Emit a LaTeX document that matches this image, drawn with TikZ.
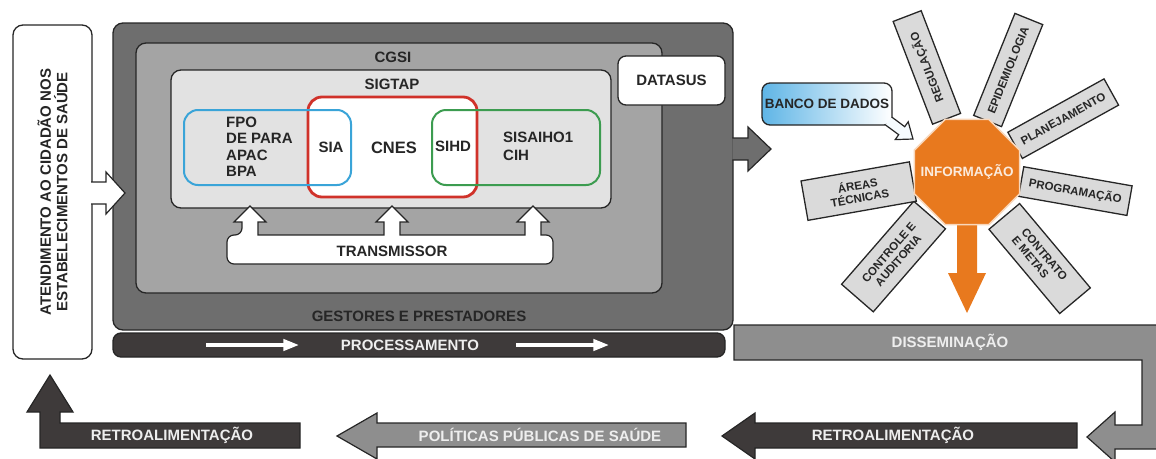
\documentclass[tikz,border=0pt]{standalone}
\usepackage{fontspec}
\setmainfont{Liberation Sans}
\usetikzlibrary{shapes.geometric, arrows.meta, positioning}

\definecolor{outergray}{HTML}{6E6E6E}
\definecolor{cgsigray}{HTML}{A4A4A4}
\definecolor{sigtapgray}{HTML}{E2E2E2}
\definecolor{darkbar}{HTML}{3E3A3A}
\definecolor{midgray}{HTML}{8E8E8E}
\definecolor{raygray}{HTML}{DADADA}
\definecolor{infoorange}{HTML}{E8791E}
\definecolor{cnesred}{HTML}{D0322A}
\definecolor{siablue}{HTML}{3AA4D8}
\definecolor{sihdgreen}{HTML}{3C9C50}
\definecolor{bancoblue}{HTML}{5FB5E6}
\definecolor{lighttext}{HTML}{EEEEEE}

\tikzset{
  lbl/.style={inner sep=0pt, text=black!85},
  panel/.style={draw=black!85, line width=1.3pt, rounded corners=10pt, inner sep=0pt},
  sysbox/.style={rounded corners=14pt, line width=2pt, inner sep=0pt},
  raybox/.style={draw=black!85, fill=raygray, line width=1.3pt, minimum width=110pt, inner sep=0pt,
    align=center, text=black!85, font=\bfseries\fontsize{11.5}{12.5}\selectfont},
  blockarrow/.style={draw=black!85, line width=1.2pt, line join=miter},
}

\begin{document}
\begin{tikzpicture}[x=1pt, y=-1pt, font=\bfseries\fontsize{15}{16.5}\selectfont]
\useasboundingbox (0,0) rectangle (1156,458);
\clip (0,0) rectangle (1156,458);

% atendimento
\node[panel, fill=white, minimum width=79pt, minimum height=334pt] (atend) at (52.5,192) {};
\node[lbl, rotate=90, align=center] (atendlbl) at (atend) {ATENDIMENTO AO CIDADÃO NOS\\ESTABELECIMENTOS DE SAÚDE};

% gestores e prestadores
\node[panel, fill=outergray, minimum width=620pt, minimum height=307pt] (gestores) at (423,176.5) {};
\node[lbl] (gestoreslbl) at (419,316) {GESTORES E PRESTADORES};
\node[panel, fill=darkbar, rounded corners=8pt, minimum width=612pt, minimum height=24pt] (proc) at (419,345) {};
\node[lbl, text=lighttext] (proclbl) at (410,345.5) {PROCESSAMENTO};
\draw[white, line width=4pt, -{Triangle[length=16pt,width=11pt]}] ([xshift=94pt]proc.west) -- ([xshift=187pt]proc.west);
\draw[white, line width=4pt, -{Triangle[length=16pt,width=11pt]}] ([xshift=404pt]proc.west) -- ([xshift=497pt]proc.west);

% cgsi / sigtap
\node[panel, fill=cgsigray, minimum width=526pt, minimum height=250pt] (cgsi) at (399,168) {};
\node[lbl] (cgsilbl) at (393,57) {CGSI};
\node[panel, fill=sigtapgray, minimum width=440pt, minimum height=138pt] (sigtap) at (391,139) {};
\node[lbl] (sigtaplbl) at (392,84) {SIGTAP};

\node[sysbox, draw=cnesred, fill=white, line width=2.8pt, minimum width=169pt, minimum height=100pt] (cnes) at (392.5,147) {};
\node[sysbox, draw=siablue, minimum width=167pt, minimum height=75pt] (sia) at (267.5,147.5) {};
\node[sysbox, draw=sihdgreen, minimum width=168pt, minimum height=75pt] (sihd) at (516,147.5) {};
\node[lbl, align=left, anchor=west] (sialist) at (226,147) {FPO\\DE PARA\\APAC\\BPA};
\node[lbl] (sialbl) at (331,147) {SIA};
\node[lbl, font=\bfseries\fontsize{16.5}{18}\selectfont] (cneslbl) at (394,148) {CNES};
\node[lbl] (sihdlbl) at (453,146) {SIHD};
\node[lbl, align=left, anchor=west, font=\bfseries\fontsize{15}{18}\selectfont] (sihdlist) at (503,146) {SISAIHO1\\CIH};

\node[panel, fill=white, rounded corners=8pt, minimum width=107pt, minimum height=49pt, text=black!85] (datasus) at (671.5,80.5) {DATASUS};

% transmissor
\draw[blockarrow, fill=white, rounded corners=7pt] (227,264) -- (227,235) -- (242,235) [sharp corners] -- (242,222) -- (234,222) -- (250,206) -- (266,222) -- (258,222) -- (258,235)
  -- (384,235) -- (384,222) -- (376,222) -- (392,206) -- (408,222) -- (400,222) -- (400,235)
  -- (525,235) -- (525,222) -- (517,222) -- (533,206) -- (549,222) -- (541,222) -- (541,235) [rounded corners=7pt] -- (553,235) -- (553,264) -- cycle;
\node[lbl] (transmissor) at (392,251) {TRANSMISSOR};

% block arrows in and out
\draw[blockarrow, fill=white] (91,182) -- (106,182) -- (106,172) -- (125,193) -- (106,214) -- (106,204) -- (91,204);
\draw[blockarrow, fill=outergray] (732.3,138) -- (748,138) -- (748,127) -- (771,149) -- (748,171) -- (748,160) -- (732.3,160);

% banco de dados
\node[panel, rounded corners=8pt, left color=bancoblue, right color=white, minimum width=130pt, minimum height=42pt,
  text=black!85, font=\bfseries\fontsize{13.5}{14}\selectfont] (banco) at (827,104) {BANCO DE DADOS};
\draw[blockarrow, fill=bancoblue!6] (885.5,125) -- (898.7,134.7) -- (895.2,139.6) -- (913,139) -- (908.2,121.8) -- (904.7,126.7) -- (892,117.2);

% informacao
\coordinate (infoc) at (967,172);
\node[raybox, minimum height=30pt, rotate=111] (regulacao) at ([shift={(111:112pt)}]infoc) {REGULAÇÃO};
\node[raybox, minimum height=30pt, rotate=68] (epidemiologia) at ([shift={(68:110pt)}]infoc) {EPIDEMIOLOGIA};
\node[raybox, minimum height=30pt, rotate=29] (planejamento) at ([shift={(29:110pt)}]infoc) {PLANEJAMENTO};
\node[raybox, minimum height=30pt, rotate=-10] (programacao) at ([shift={(-10:110pt)}]infoc) {PROGRAMAÇÃO};
\node[raybox, minimum height=40pt, rotate=-50, align=left] (contrato) at ([shift={(-50:113pt)}]infoc) {CONTRATO\\E METAS};
\node[raybox, minimum height=42pt, rotate=49] (controle) at ([shift={(229:112pt)}]infoc) {CONTROLE E\\AUDITORIA};
\node[raybox, minimum height=40pt, rotate=10] (areas) at ([shift={(190:110pt)}]infoc) {ÁREAS\\TÉCNICAS};
\fill[infoorange] (957,220) -- (977,220) -- (977,273) -- (986,273) -- (967,313) -- (948,273) -- (957,273) -- cycle;
\node[regular polygon, regular polygon sides=8, minimum size=114pt, inner sep=0pt, fill=infoorange, draw=white!70!infoorange,
  line width=1.5pt] (info) at (infoc) {};
\node[lbl, text=white!85!infoorange, font=\bfseries\fontsize{13.5}{14}\selectfont] (infolbl) at (info) {INFORMAÇÃO};

% disseminacao
\draw[blockarrow, fill=midgray] (734,325) -- (1170,325) -- (1170,449) -- (1115,449) -- (1115,462) -- (1087,437) -- (1115,412) -- (1115,425) -- (1142,425) -- (1142,360) -- (734,360) -- cycle;
\node[lbl, text=lighttext] (dissem) at (950,342.5) {DISSEMINAÇÃO};

% retroalimentacao
\draw[blockarrow, fill=darkbar] (1077,423) -- (1077,448) -- (755,448) -- (755,459) -- (722,436) -- (755,413) -- (755,423) -- cycle;
\node[lbl, text=lighttext] (retroright) at (893,435.5) {RETROALIMENTAÇÃO};
\draw[blockarrow, fill=midgray] (686,423) -- (686,447) -- (377,447) -- (377,459) -- (337,436) -- (377,413) -- (377,423) -- cycle;
\node[lbl, text=lighttext] (politicas) at (540,435) {POLÍTICAS PÚBLICAS DE SAÚDE};
\draw[blockarrow, fill=darkbar] (300,423) -- (300,448) -- (40,448) -- (40,412) -- (27,412) -- (50,375) -- (73,412) -- (60,412) -- (60,423) -- cycle;
\node[lbl, text=lighttext] (retroleft) at (172,435.5) {RETROALIMENTAÇÃO};
\end{tikzpicture}
\end{document}
